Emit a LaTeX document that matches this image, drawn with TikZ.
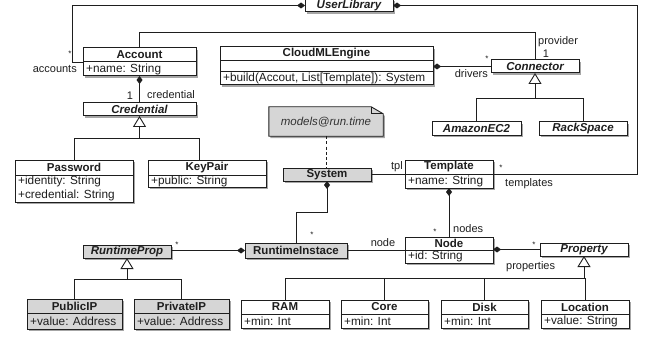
\documentclass[tikz,border=0pt]{standalone}
\usepackage{fontspec}
\setmainfont{Liberation Sans}
\usetikzlibrary{arrows.meta,shadows,calc}
\definecolor{gfill}{HTML}{D6D6D6}
\definecolor{ink}{HTML}{1E1E1E}
\tikzset{
  shadowed/.style={drop shadow={shadow xshift=1.6pt, shadow yshift=-2pt, fill=black, opacity=0.35}},
  cls/.style={draw=ink, line width=1pt, fill=white, inner sep=0pt, outer sep=0pt, text=ink,
    font=\fontsize{11.5}{13}\selectfont\bfseries, shadowed},
  gcls/.style={cls, fill=gfill},
  icls/.style={cls, font=\fontsize{11.5}{13}\selectfont\bfseries\itshape},
  gicls/.style={icls, fill=gfill},
  ttl/.style={inner sep=0pt, text=ink, font=\fontsize{11.5}{13}\selectfont\bfseries},
  attr/.style={inner sep=0pt, anchor=west, text=ink, font=\fontsize{11.8}{13}\selectfont},
  sepline/.style={draw=ink, line width=1pt},
  assoc/.style={draw=ink, line width=0.9pt},
  comp/.style={assoc, {Diamond[length=8pt,width=6pt]}-},
  inh/.style={assoc, -{Triangle[open,length=11pt,width=13pt,fill=white]}},
  lbl/.style={inner sep=0pt, text=ink, font=\fontsize{11}{13}\selectfont},
  mult/.style={inner sep=0pt, text=ink, font=\fontsize{8}{9}\selectfont},
}
\newcommand\mkbox[7]{\node[#2, minimum width={(#5)-(#3)}, minimum height={(#6)-(#4)}] (#1) at ({((#3)+(#5))/2},{((#4)+(#6))/2}) {#7};}
\newcommand\sepat[2]{\draw[sepline] (#1.west |- 0,#2) -- (#1.east |- 0,#2);}
\begin{document}
\begin{tikzpicture}[x=1pt,y=-1pt]
\useasboundingbox (0,0) rectangle (646,337);

% ---------- classes ----------
\mkbox{UserLibrary}{icls}{305}{-1}{393}{12}{UserLibrary}

\mkbox{Account}{cls}{83}{48}{196}{76}{}
\sepat{Account}{62}
\node[ttl] (Account-t) at (Account.north |- 0,55) {Account};
\node[attr] (Account-a) at (86,69) {+name: String};

\mkbox{CloudMLEngine}{cls}{220}{47}{433}{85}{}
\sepat{CloudMLEngine}{61}
\sepat{CloudMLEngine}{72}
\node[ttl] (CloudMLEngine-t) at (CloudMLEngine.north |- 0,54) {CloudMLEngine};
\node[attr] (CloudMLEngine-o) at (223,78.5) {+build(Accout, List[Template]): System};

\mkbox{Connector}{icls}{491}{60}{579}{73}{Connector}
\mkbox{AmazonEC2}{icls}{432}{122}{521}{135}{AmazonEC2}
\mkbox{RackSpace}{icls}{539}{122}{627}{135}{RackSpace}

\mkbox{Credential}{icls}{83}{103}{196}{116}{Credential}

\mkbox{Password}{cls}{15}{160}{133}{202}{}
\sepat{Password}{175}
\node[ttl] (Password-t) at (Password.north |- 0,167.5) {Password};
\node[attr] (Password-a1) at (18,181.5) {+identity: String};
\node[attr] (Password-a2) at (18,195) {+credential: String};

\mkbox{KeyPair}{cls}{148}{160}{266}{187}{}
\sepat{KeyPair}{175}
\node[ttl] (KeyPair-t) at (KeyPair.north |- 0,167.5) {KeyPair};
\node[attr] (KeyPair-a) at (151,181) {+public: String};

% note
\node[inner sep=0pt, minimum width=114, minimum height=29] (Note) at (326,121.5) {};
\draw[draw=ink, line width=0.9pt, fill=gfill, shadowed]
  (Note.north west) -- ([xshift=-12pt]Note.north east) -- ([yshift=-7pt]Note.north east)
  -- (Note.south east) -- (Note.south west) -- cycle;
\draw[draw=ink, line width=0.7pt] ([xshift=-12pt]Note.north east) -- ([xshift=-12pt,yshift=-7pt]Note.north east) -- ([yshift=-7pt]Note.north east);
\node[inner sep=0pt, text=black!80, font=\fontsize{11.5}{13}\selectfont\itshape] (Note-t) at ([yshift=-1pt]Note.center) {models@run.time};

\mkbox{System}{gcls}{283}{168}{371}{181}{System}

\mkbox{Template}{cls}{405}{160}{493}{188}{}
\sepat{Template}{174}
\node[ttl] (Template-t) at (Template.north |- 0,167) {Template};
\node[attr] (Template-a) at (408,181) {+name: String};

\mkbox{RuntimeInstace}{gcls}{245}{243}{347}{258}{RuntimeInstace}
\mkbox{RuntimeProp}{gicls}{83}{245}{171}{258}{RuntimeProp}

\mkbox{Node}{cls}{405}{237}{493}{263}{}
\sepat{Node}{250}
\node[ttl] (Node-t) at (Node.north |- 0,243.5) {Node};
\node[attr] (Node-a) at (408,256.5) {+id: String};

\mkbox{Property}{icls}{540}{243}{628}{256}{Property}

\mkbox{PublicIP}{gcls}{27}{299}{122}{329}{}
\sepat{PublicIP}{313}
\node[ttl] (PublicIP-t) at (PublicIP.north |- 0,306) {PublicIP};
\node[attr] (PublicIP-a) at (30,321) {+value: Address};

\mkbox{PrivateIP}{gcls}{134}{299}{229}{329}{}
\sepat{PrivateIP}{313}
\node[ttl] (PrivateIP-t) at (PrivateIP.north |- 0,306) {PrivateIP};
\node[attr] (PrivateIP-a) at (137,321) {+value: Address};

\mkbox{RAM}{cls}{241}{300}{329}{328}{}
\sepat{RAM}{314}
\node[ttl] (RAM-t) at (RAM.north |- 0,307) {RAM};
\node[attr] (RAM-a) at (244,321) {+min: Int};

\mkbox{Core}{cls}{341}{300}{428}{328}{}
\sepat{Core}{314}
\node[ttl] (Core-t) at (Core.north |- 0,307) {Core};
\node[attr] (Core-a) at (344,321) {+min: Int};

\mkbox{Disk}{cls}{441}{300}{528}{328}{}
\sepat{Disk}{314}
\node[ttl] (Disk-t) at (Disk.north |- 0,307) {Disk};
\node[attr] (Disk-a) at (444,321) {+min: Int};

\mkbox{Location}{cls}{541}{300}{629}{328}{}
\sepat{Location}{314}
\node[ttl] (Location-t) at (Location.north |- 0,307) {Location};
\node[attr] (Location-a) at (544,321) {+value: String};

% ---------- connectors ----------
\draw[comp] (UserLibrary.west) -| (72,62) -- (Account.west |- 0,62);
\draw[comp] (UserLibrary.east) -| (637,174) -- (Template.east |- 0,174);
\draw[assoc] (Account.north) |- (535,32) -- (Connector.north);
\draw[comp] (CloudMLEngine.east |- Connector.west) -- (Connector.west);
\draw[inh] (AmazonEC2.north) |- (535,98) -- (Connector.south);
\draw[assoc] (RackSpace.north) |- (535,98);

\draw[comp] (Account.south) -- (Credential.north);
\draw[inh] (Password.north) |- (139.5,138) -- (Credential.south);
\draw[assoc] ([xshift=-8pt]KeyPair.north) |- (139.5,138);

\draw[dash pattern=on 3pt off 2.2pt, line width=0.9pt, draw=ink] (Note.south) -- (Note.south |- System.north);
\draw[assoc] (System.east) -- (System.east -| Template.west);
\draw[comp] (System.south) -- ++(0,31) -| (RuntimeInstace.north);
\draw[comp] (RuntimeInstace.west) -- (RuntimeInstace.west -| RuntimeProp.east);
\draw[inh] (PublicIP.north) |- (127,279) -- (RuntimeProp.south);
\draw[assoc] (PrivateIP.north) |- (127,279);
\draw[assoc] (RuntimeInstace.east) -- (RuntimeInstace.east -| Node.west);
\draw[comp] (Template.south) -- (Node.north);
\draw[comp] (Node.east |- Property.west) -- (Property.west);
\draw[inh] (RAM.north) |- (Property.south |- 0,278) -- (Property.south);
\draw[assoc] (Core.north) -- (Core.north |- 0,278);
\draw[assoc] (Disk.north) -- (Disk.north |- 0,278);
\draw[assoc] (Location.north) -- (Location.north |- 0,278);

% ---------- labels ----------
\node[mult] (m1) at (70,54) {*};
\node[lbl, anchor=east] (l-accounts) at (77,69) {accounts};
\node[lbl] (m2) at (130,96) {1};
\node[lbl, anchor=west] (l-credential) at (147,95) {credential};
\node[lbl, anchor=west] (l-provider) at (538,42) {provider};
\node[lbl] (m3) at (546,54) {1};
\node[mult] (m4) at (487,59) {*};
\node[lbl, anchor=east] (l-drivers) at (488,74) {drivers};
\node[lbl, anchor=east] (l-tpl) at (403,167) {tpl};
\node[mult] (m5) at (501,168) {*};
\node[lbl, anchor=west] (l-templates) at (505,184) {templates};
\node[mult] (m6) at (312,235) {*};
\node[mult] (m7) at (177,245) {*};
\node[lbl] (l-node) at (383,243) {node};
\node[mult] (m8) at (435,232) {*};
\node[lbl, anchor=west] (l-nodes) at (453,229) {nodes};
\node[mult] (m9) at (534,245) {*};
\node[lbl, anchor=west] (l-properties) at (506,267) {properties};
\end{tikzpicture}
\end{document}
